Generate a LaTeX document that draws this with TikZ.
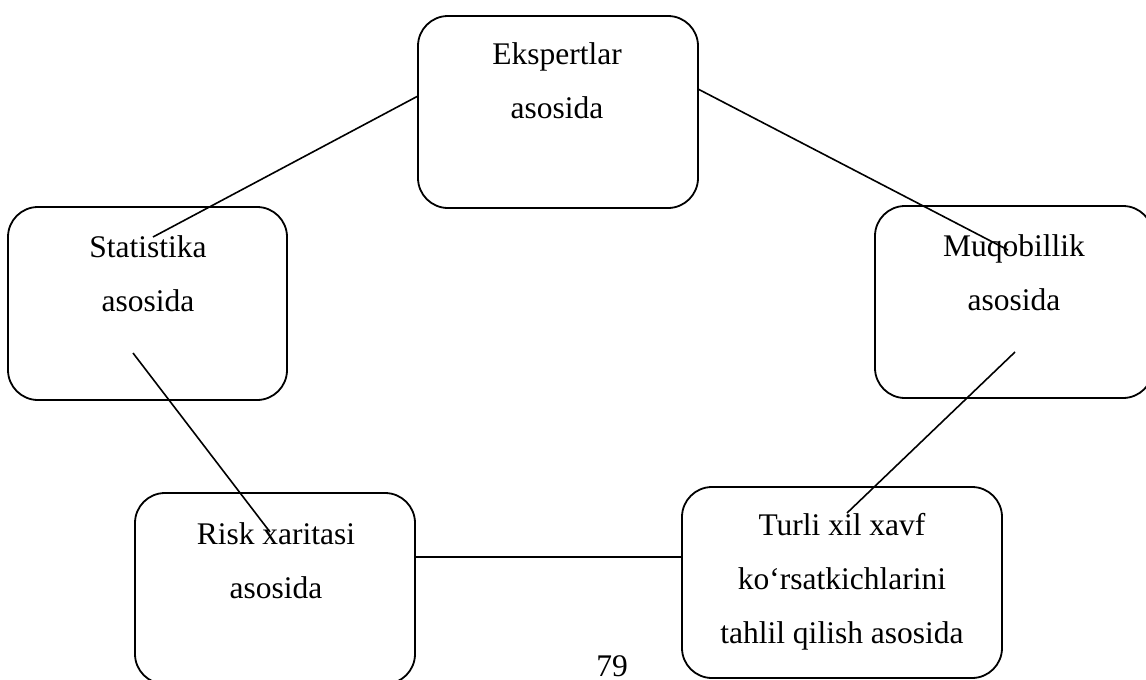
\documentclass[tikz,border=0pt]{standalone}
\usepackage{fontspec}
\setmainfont{Liberation Serif}
\begin{document}
\begin{tikzpicture}[x=1pt,y=-1pt,
  blockbox/.style={draw=black, line width=1.8pt, rounded corners=30pt, fill=none, inner sep=0pt},
  blocktext/.style={inner sep=0pt, align=center, anchor=base,
    font=\fontsize{31.5}{54}\selectfont},
  link/.style={draw=black, line width=1.6pt}]
\useasboundingbox (0,0) rectangle (1146,680);
\clip (0,0) rectangle (1146,680);

% rounded blocks
\node[blockbox, minimum width=280pt, minimum height=192pt] (eks)   at (558,112)   {};
\node[blockbox, minimum width=279pt, minimum height=193pt] (stat)  at (147.5,303.5) {};
\node[blockbox, minimum width=278pt, minimum height=192pt] (muq)   at (1014,302)  {};
\node[blockbox, minimum width=280pt, minimum height=191pt] (risk)  at (275,588.5) {};
\node[blockbox, minimum width=320pt, minimum height=191pt] (turli) at (842,582.5) {};

% block captions (anchored at the baseline of the last line)
\node[blocktext] (eksT)   at (557,118)  {Ekspertlar\\asosida};
\node[blocktext] (statT)  at (148,311)  {Statistika\\asosida};
\node[blocktext] (muqT)   at (1014,310) {Muqobillik\\asosida};
\node[blocktext] (riskT)  at (276,598)  {Risk xaritasi\\asosida};
\node[blocktext] (turliT) at (842,643)  {Turli xil xavf\\ko‘rsatkichlarini\\tahlil qilish asosida};

% connector end points
\coordinate (c1a) at (153,237);  \coordinate (c1b) at (418,96);
\coordinate (c2a) at (698,89);   \coordinate (c2b) at (1008,250);
\coordinate (c3a) at (133,353);  \coordinate (c3b) at (270,532);
\coordinate (c4a) at (1015,352); \coordinate (c4b) at (847,513);
\coordinate (c5a) at (415,557);  \coordinate (c5b) at (682,557);

\draw[link] (c1a) -- (c1b);
\draw[link] (c2a) -- (c2b);
\draw[link] (c3a) -- (c3b);
\draw[link] (c4a) -- (c4b);
\draw[link] (c5a) -- (c5b);

% page number
\node[blocktext] (page) at (612,676) {79};
\end{tikzpicture}
\end{document}
